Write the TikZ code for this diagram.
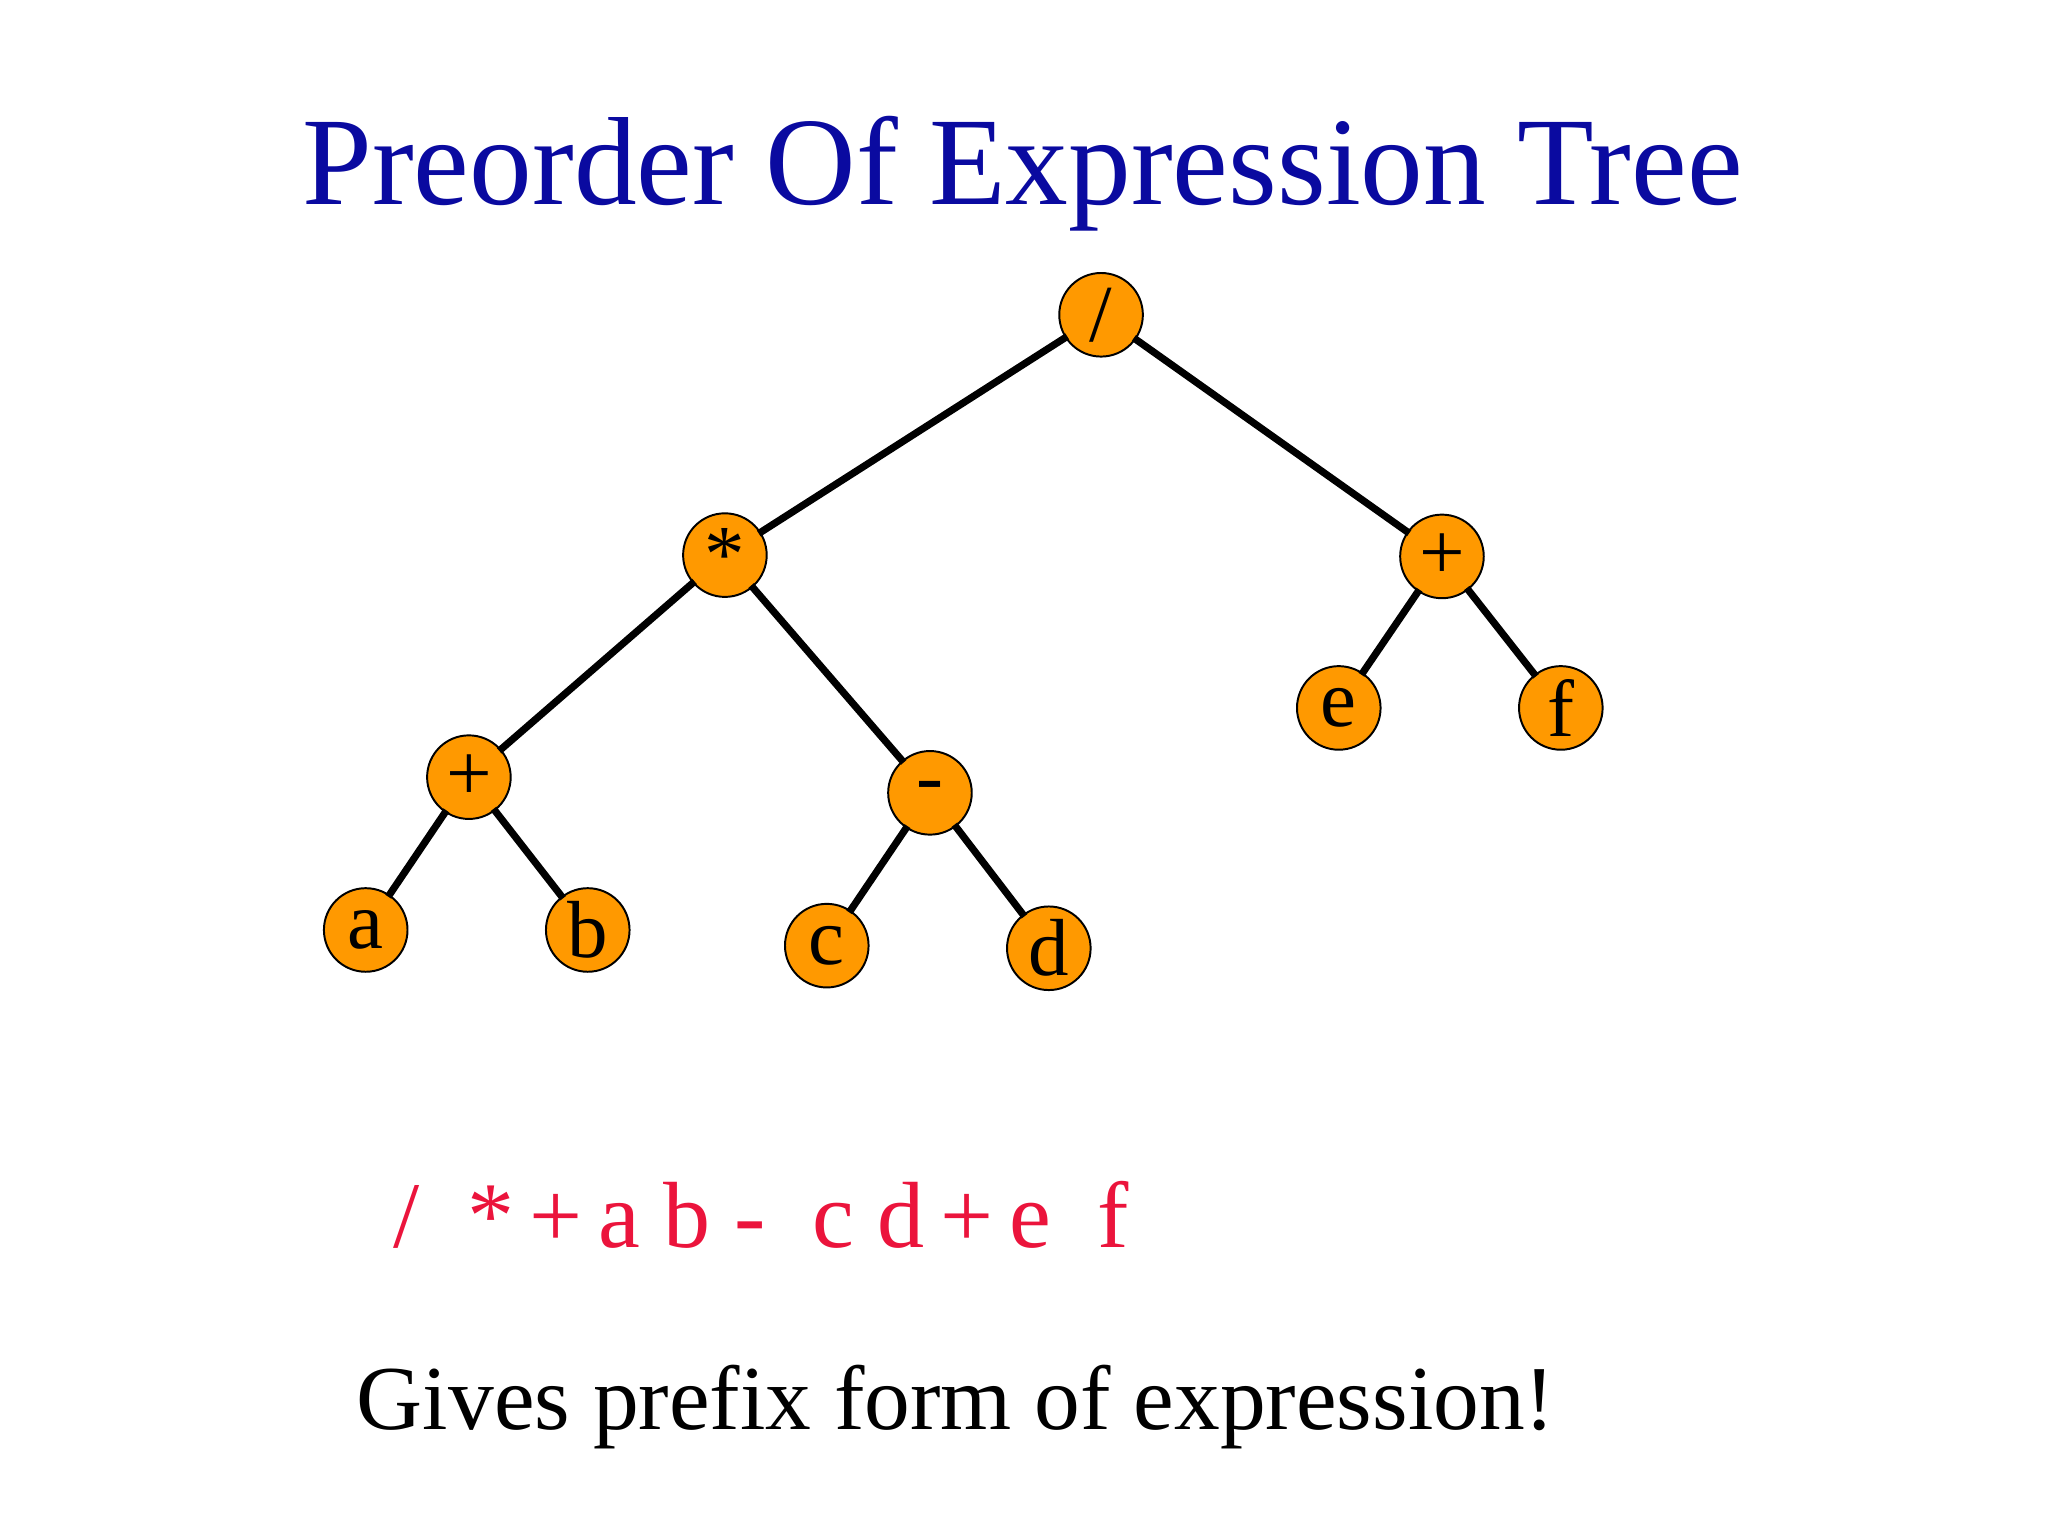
\documentclass[tikz,border=0pt]{standalone}
\usepackage{fontspec}
\setmainfont{Liberation Serif}
\begin{document}
\begin{tikzpicture}[x=1pt,y=-1pt,
 tn/.style={circle,draw=black,line width=1.5pt,fill={rgb,255:red,255;green,153;blue,0},minimum size=64pt,inner sep=0pt,font=\fontsize{62}{62}\selectfont},
 ed/.style={line width=5.5pt,shorten <=-2pt,shorten >=-2pt}]
\useasboundingbox (0,0) rectangle (1568,1176);
\node[text={rgb,255:red,10;green,10;blue,160},font=\fontsize{96}{100}\selectfont] (title) at (783,133) {Preorder Of Expression Tree};
\node[tn] (r) at (843,241) {/};
\node[tn] (m) at (555,425) {*};
\node[tn] (p2) at (1104,426) {+};
\node[tn] (p1) at (359,595) {+};
\node[tn] (s) at (712,607) {-};
\node[tn] (e) at (1025,542) {e};
\node[tn] (f) at (1195,542) {f};
\node[tn] (a) at (280,712) {a};
\node[tn] (b) at (450,712) {b};
\node[tn] (c) at (633,724) {c};
\node[tn] (d) at (803,726) {d};
\foreach \u/\v in {r/m,r/p2,m/p1,m/s,p2/e,p2/f,p1/a,p1/b,s/c,s/d}
  \draw[ed] (\u) -- (\v);
\node[text={rgb,255:red,235;green,20;blue,60},font=\fontsize{72}{76}\selectfont,anchor=west] (pre) at (298,930) {/\ \ *\,+\,a b -\ \ c d\,+\,e\ \ f};
\node[font=\fontsize{70}{76}\selectfont] (msg) at (732,1077) {Gives prefix form of expression!};
\end{tikzpicture}
\end{document}
